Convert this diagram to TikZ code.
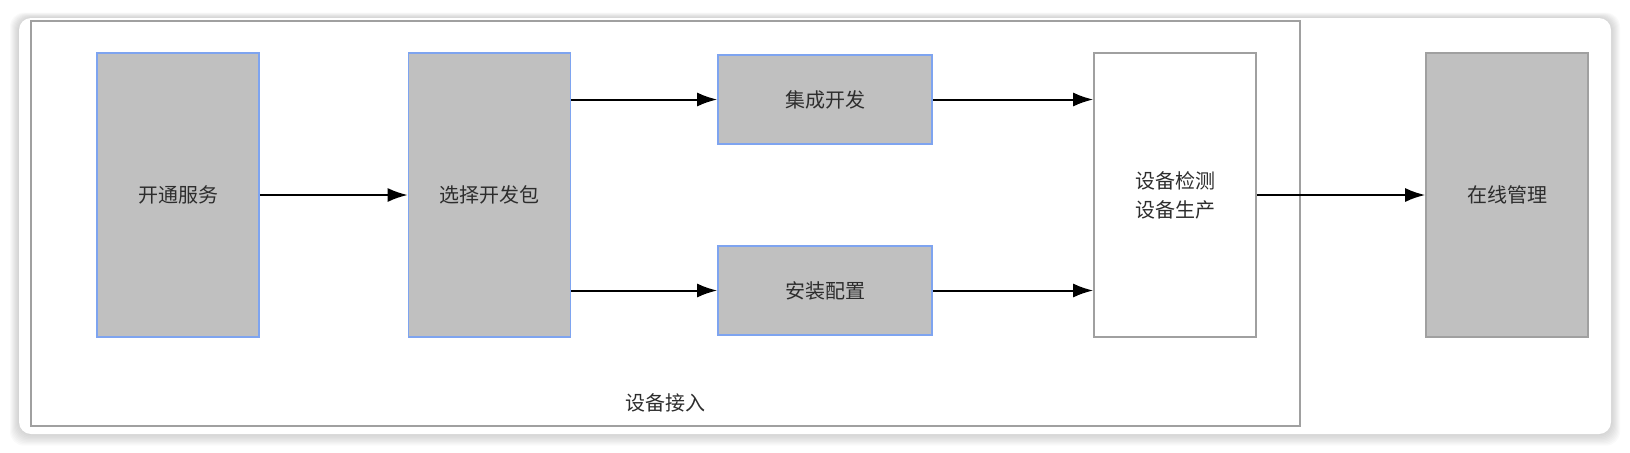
\documentclass[tikz,border=0pt]{standalone}
\usepackage{fontspec}
\setmainfont{Noto Sans CJK SC}
\usetikzlibrary{arrows.meta}

\definecolor{stagegray}{RGB}{192,192,192}
\definecolor{stageblue}{RGB}{126,164,240}
\definecolor{framegray}{RGB}{160,160,160}
\definecolor{labelgray}{RGB}{45,45,45}

\tikzset{
	stage/.style={draw=stageblue, fill=stagegray, line width=0.8pt, inner sep=0pt,
		minimum width=81pt, minimum height=142pt, text=labelgray,
		font=\fontsize{10pt}{14.5pt}\selectfont, align=center},
	substage/.style={stage, minimum width=107pt, minimum height=44.5pt},
	flow/.style={->, line width=1pt, black}
}

\begin{document}
\begin{tikzpicture}[x=0.5pt, y=-0.5pt, >={Latex[length=10pt,width=7pt]}]
	
	\useasboundingbox (0,0) rectangle (1630,452);
	
	% Card with soft shadow
	\foreach \i in {1,...,9}
	\fill[black, opacity=0.018, rounded corners=7pt]
	(19-\i,18-0.6*\i) rectangle (1611+\i,434+1.3*\i);
	\fill[white, rounded corners=6pt] (19,18) rectangle (1611,434);
	
	% Container
	\draw[framegray, line width=1.1pt] (31,21) rectangle (1300,426);
	\node[text=labelgray, font=\fontsize{10pt}{12pt}\selectfont] (access) at (665,403) {设备接入};
	
	% Boxes
	\node[stage] (service) at (178,195) {开通服务};
	\node[stage] (package) at (489.5,195) {选择开发包};
	\node[substage] (develop) at (825,99.5) {集成开发};
	\node[substage] (install) at (825,290.5) {安装配置};
	\node[stage, draw=framegray, fill=white] (testing) at (1175,195) {设备检测\\设备生产};
	\node[stage, draw=framegray] (manage) at (1507,195) {在线管理};
	
	% Arrows
	\draw[flow] (service) -- (package);
	\draw[flow] (package.east |- develop.west) -- (develop.west);
	\draw[flow] (package.east |- install.west) -- (install.west);
	\draw[flow] (develop.east) -- (develop.east -| testing.west);
	\draw[flow] (install.east) -- (install.east -| testing.west);
	\draw[flow] (testing) -- (manage);
	
\end{tikzpicture}
\end{document}
